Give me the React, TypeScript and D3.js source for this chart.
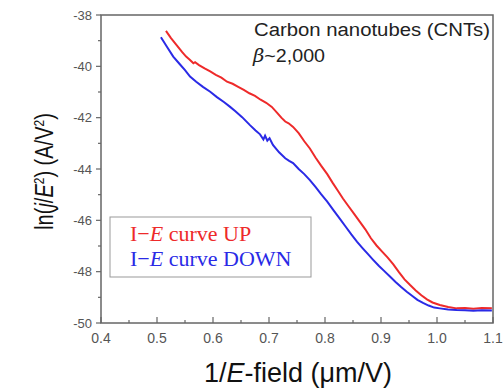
import React from "react";
import * as d3 from "d3";

const upX = [0.516,0.525,0.535,0.545,0.552,0.559,0.565,0.568,0.575,0.585,0.595,0.605,0.615,0.625,0.635,0.645,0.655,0.665,0.675,0.685,0.695,0.705,0.715,0.722,0.729,0.735,0.743,0.753,0.763,0.773,0.783,0.793,0.804,0.814,0.823,0.832,0.842,0.852,0.862,0.872,0.882,0.892,0.902,0.912,0.922,0.932,0.942,0.952,0.962,0.972,0.982,0.992,1.005,1.02,1.035,1.05,1.065,1.08,1.098];
const upY = [-38.62,-38.9,-39.17,-39.45,-39.62,-39.75,-39.88,-39.84,-39.95,-40.08,-40.2,-40.33,-40.44,-40.6,-40.68,-40.8,-40.92,-41.05,-41.15,-41.3,-41.42,-41.58,-41.82,-42.0,-42.15,-42.22,-42.36,-42.6,-42.92,-43.2,-43.55,-43.87,-44.2,-44.55,-44.85,-45.15,-45.45,-45.75,-46.05,-46.35,-46.7,-46.98,-47.22,-47.45,-47.72,-48.02,-48.3,-48.52,-48.73,-48.92,-49.08,-49.2,-49.3,-49.38,-49.43,-49.42,-49.44,-49.42,-49.43];

const downX = [0.507,0.518,0.529,0.54,0.55,0.559,0.57,0.582,0.595,0.607,0.62,0.63,0.64,0.652,0.666,0.676,0.684,0.69,0.693,0.697,0.701,0.707,0.718,0.729,0.736,0.743,0.753,0.763,0.773,0.783,0.793,0.804,0.815,0.827,0.837,0.847,0.857,0.867,0.876,0.886,0.896,0.906,0.916,0.926,0.936,0.946,0.956,0.965,0.975,0.985,0.995,1.005,1.02,1.035,1.05,1.065,1.08,1.098];
const downY = [-38.87,-39.25,-39.62,-39.9,-40.15,-40.4,-40.6,-40.8,-40.99,-41.2,-41.4,-41.57,-41.75,-41.98,-42.29,-42.5,-42.65,-42.85,-42.7,-42.9,-42.8,-43.06,-43.35,-43.58,-43.68,-43.77,-44.0,-44.2,-44.43,-44.7,-44.98,-45.27,-45.6,-45.95,-46.25,-46.55,-46.83,-47.08,-47.3,-47.54,-47.77,-47.98,-48.19,-48.4,-48.6,-48.78,-48.95,-49.1,-49.22,-49.32,-49.4,-49.43,-49.47,-49.49,-49.5,-49.52,-49.5,-49.51];

const xTicks = [0.4,0.5,0.6,0.7,0.8,0.9,1.0,1.1];
const xTickLabels = ["0.4","0.5","0.6","0.7","0.8","0.9","1.0","1.1"];
const xMinor = [0.45,0.55,0.65,0.75,0.85,0.95,1.05];
const yTicks = [-38,-40,-42,-44,-46,-48,-50];
const yMinor = [-39,-41,-43,-45,-47,-49];

export default function App() {
  const W = 504, H = 391;
  const L = 101, R = 493, T = 15, B = 323;
  const x = d3.scaleLinear().domain([0.4, 1.1]).range([L, R]);
  const y = d3.scaleLinear().domain([-50, -38]).range([B, T]);
  const line = d3.line<[number, number]>().x(d => x(d[0])).y(d => y(d[1]));
  const up = upX.map((v, i) => [v, upY[i]] as [number, number]);
  const down = downX.map((v, i) => [v, downY[i]] as [number, number]);
  const axisColor = "#666";
  const labColor = "#555";
  const serif = "'Liberation Serif', 'Times New Roman', serif";
  return (
    <svg width={W} height={H} style={{ position: "absolute", left: 0, top: 0, background: "#fff" }} fontFamily="Arial, 'Liberation Sans', sans-serif">
      <rect x={L} y={T} width={R - L} height={B - T} fill="none" stroke={axisColor} strokeWidth={1.5} />
      {yTicks.map(t => (
        <g key={"y" + t}>
          <line x1={L - 5} x2={L} y1={y(t)} y2={y(t)} stroke={axisColor} strokeWidth={1.2} />
          <text x={92} y={y(t) + 4.5} textAnchor="end" fontSize={13} fill={labColor}>{t}</text>
        </g>
      ))}
      {yMinor.map(t => (
        <line key={"ym" + t} x1={L - 3} x2={L} y1={y(t)} y2={y(t)} stroke={axisColor} strokeWidth={1.2} />
      ))}
      {xTicks.map((t, i) => (
        <g key={"x" + t}>
          <line x1={x(t)} x2={x(t)} y1={B} y2={B - 6} stroke={axisColor} strokeWidth={1.2} />
          <text x={x(t)} y={343} textAnchor="middle" fontSize={14} fill={labColor}>{xTickLabels[i]}</text>
        </g>
      ))}
      {xMinor.map(t => (
        <line key={"xm" + t} x1={x(t)} x2={x(t)} y1={B} y2={B - 3} stroke={axisColor} strokeWidth={1.2} />
      ))}
      <path d={line(up) || ""} fill="none" stroke="#ee2a2a" strokeWidth={2} />
      <path d={line(down) || ""} fill="none" stroke="#2a2ae6" strokeWidth={2} />
      <text x={254} y={36} fontSize={18} fill="#222" textLength={236} lengthAdjust="spacingAndGlyphs">Carbon nanotubes (CNTs)</text>
      <text x={253} y={62} fontSize={18} fill="#222" textLength={72} lengthAdjust="spacingAndGlyphs"><tspan fontStyle="italic" fontFamily="'DejaVu Serif', serif">β</tspan>~2,000</text>
      <rect x={110} y={217} width={201} height={60} fill="#fff" stroke="#999" strokeWidth={1} />
      <text x={130} y={241} fontSize={22} fill="#ee2a2a" fontFamily={serif}>I−<tspan fontStyle="italic">E</tspan> curve UP</text>
      <text x={130} y={266} fontSize={22} fill="#2a2ae6" fontFamily={serif}>I−<tspan fontStyle="italic">E</tspan> curve DOWN</text>
      <text x={298} y={382} textAnchor="middle" fontSize={27} fill="#111">1/<tspan fontStyle="italic">E</tspan>-field (μm/V)</text>
      <g transform="translate(53,171.5) rotate(-90) scale(0.8,1)">
        <text x={0} y={0} textAnchor="middle" fontSize={25} fill="#111">ln(<tspan fontStyle="italic">j</tspan>/<tspan fontStyle="italic">E</tspan><tspan dy={-9} fontSize={15}>2</tspan><tspan dy={9}>) (A/V</tspan><tspan dy={-9} fontSize={15}>2</tspan><tspan dy={9}>)</tspan></text>
      </g>
    </svg>
  );
}
